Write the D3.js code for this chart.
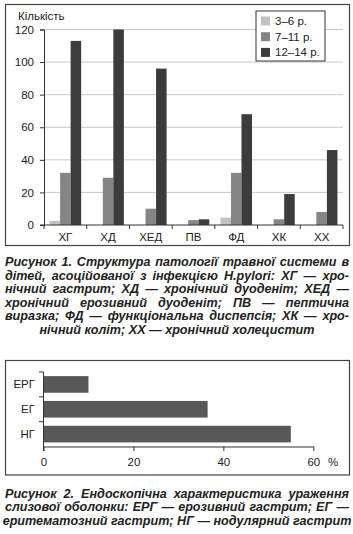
<!DOCTYPE html>
<html>
<head>
<meta charset="utf-8">
<script src="https://cdn.jsdelivr.net/npm/d3@7"></script>
<style>
  body { margin: 0; background: #fff; }
  svg text { font-family: "Liberation Sans", Arial, sans-serif; fill: #222; }
  .cap { font-weight: bold; font-style: italic; font-size: 12.6px; }
</style>
</head>
<body>
<svg id="fig" width="353" height="534"></svg>
<script>
// figure 1 data
var categories = ["ХГ", "ХД", "ХЕД", "ПВ", "ФД", "ХК", "ХХ"];
var ageGroups = ["3–6 р.", "7–11 р.", "12–14 р."];
var age3to6 = [2.5, 0, 0, 0, 4.5, 0, 0];
var age7to11 = [32, 29, 10, 3, 32, 3.5, 8];
var age12to14 = [113, 120, 96, 3.5, 68, 19, 46];
var yTicks1 = [0, 20, 40, 60, 80, 100, 120];

// figure 2 data
var lesions = ["ЕРГ", "ЕГ", "НГ"];
var lesionPct = [10, 36.5, 55];
var xTicks2 = [0, 20, 40, 60];

var caption1 = [
  "Рисунок 1. Структура патології травної системи в",
  "дітей, асоційованої з інфекцією H.pylori: ХГ — хро-",
  "нічний гастрит; ХД — хронічний дуоденіт; ХЕД —",
  "хронічний ерозивний дуоденіт; ПВ — пептична",
  "виразка; ФД — функціональна диспепсія; ХК — хро-",
  "нічний коліт; ХХ — хронічний холецистит"
];
var caption2 = [
  "Рисунок 2.  Ендоскопічна характеристика ураження",
  "слизової оболонки: ЕРГ — ерозивний гастрит; ЕГ —",
  "еритематозний гастрит; НГ — нодулярний гастрит"
];

var colors = ["#c2c2c2", "#858585", "#3c3c3c"];
var svg = d3.select("#fig");

// ---------- figure 1 ----------
svg.append("rect").attr("x", 5.5).attr("y", 4.5).attr("width", 344).attr("height", 241)
  .attr("fill", "none").attr("stroke", "#444").attr("stroke-width", 1.2);

var x0 = d3.scaleBand().domain(categories).range([44, 343]).paddingInner(0.26).paddingOuter(0.13);
var x1 = d3.scaleBand().domain(d3.range(3)).range([0, x0.bandwidth()]);
var y = d3.scaleLinear().domain([0, 120]).range([225, 29.5]);

var g1 = svg.append("g");
g1.selectAll(".grid").data(yTicks1.slice(1)).join("line")
  .attr("x1", 44).attr("x2", 343)
  .attr("y1", function (d) { return y(d); }).attr("y2", function (d) { return y(d); })
  .attr("stroke", "#c8c8c8");

var series = [age3to6, age7to11, age12to14];
categories.forEach(function (c, i) {
  series.forEach(function (s, k) {
    if (s[i] <= 0) return;
    g1.append("rect")
      .attr("x", x0(c) + x1(k)).attr("width", x1.bandwidth())
      .attr("y", y(s[i])).attr("height", y(0) - y(s[i]))
      .attr("fill", colors[k]);
  });
});

// y axis
var yAxis = g1.append("g").attr("transform", "translate(44,0)")
  .call(d3.axisLeft(y).tickValues(yTicks1).tickSize(4).tickPadding(6));
yAxis.select(".domain").attr("stroke", "#333");
yAxis.selectAll(".tick line").attr("stroke", "#333");
yAxis.selectAll("text").style("font-size", "11.5px").attr("fill", "#222");

// x axis with ticks between categories
g1.append("line").attr("x1", 40).attr("x2", 343).attr("y1", y(0)).attr("y2", y(0)).attr("stroke", "#333");
var bounds1 = d3.range(categories.length + 1).map(function (i) { return x0.range()[0] + i * x0.step(); });
g1.selectAll(".xt").data(bounds1).join("line")
  .attr("x1", function (d) { return d; }).attr("x2", function (d) { return d; })
  .attr("y1", y(0)).attr("y2", y(0) + 4).attr("stroke", "#333");
g1.selectAll(".xl").data(categories).join("text")
  .attr("x", function (d) { return x0(d) + x0.bandwidth() / 2; })
  .attr("y", 240.5).attr("text-anchor", "middle").style("font-size", "11.5px")
  .text(function (d) { return d; });

g1.append("text").attr("x", 18).attr("y", 20).style("font-size", "11.5px").text("Кількість");

// legend
var lg = g1.append("g");
lg.append("rect").attr("x", 256).attr("y", 11).attr("width", 69).attr("height", 50)
  .attr("fill", "#fff").attr("stroke", "#333");
ageGroups.forEach(function (a, k) {
  var cy = 21 + k * 15.7;
  lg.append("rect").attr("x", 261).attr("y", cy - 4.5).attr("width", 9).attr("height", 9).attr("fill", colors[k]);
  lg.append("text").attr("x", 275).attr("y", cy + 4).style("font-size", "11.5px").text(a);
});

// ---------- figure 2 ----------
svg.append("rect").attr("x", 5.5).attr("y", 360.5).attr("width", 344).attr("height", 114.5)
  .attr("fill", "none").attr("stroke", "#444").attr("stroke-width", 1.2);

var yb = d3.scaleBand().domain(lesions).range([372, 446.5]).paddingInner(0.33).paddingOuter(0.165);
var xb = d3.scaleLinear().domain([0, 60]).range([43.5, 313.3]);
var g2 = svg.append("g");

g2.selectAll(".bar").data(lesions).join("rect")
  .attr("x", xb(0)).attr("y", function (d) { return yb(d); })
  .attr("width", function (d, i) { return xb(lesionPct[i]) - xb(0); })
  .attr("height", yb.bandwidth()).attr("fill", "#585858");

var bounds2 = d3.range(lesions.length + 1).map(function (i) { return yb.range()[0] + i * yb.step(); });
g2.append("line").attr("x1", xb(0)).attr("x2", xb(0)).attr("y1", bounds2[0]).attr("y2", bounds2[3] + 4.5).attr("stroke", "#333");
g2.selectAll(".yt").data(bounds2.slice(0, 3)).join("line")
  .attr("x1", xb(0) - 4.5).attr("x2", xb(0))
  .attr("y1", function (d) { return d; }).attr("y2", function (d) { return d; })
  .attr("stroke", "#333");
g2.selectAll(".yl").data(lesions).join("text")
  .attr("x", 35).attr("y", function (d) { return yb(d) + yb.bandwidth() / 2 + 4; })
  .attr("text-anchor", "end").style("font-size", "11.5px").text(function (d) { return d; });

var xAxis = g2.append("g").attr("transform", "translate(0," + bounds2[3] + ")")
  .call(d3.axisBottom(xb).tickValues(xTicks2).tickSize(4.5).tickPadding(7).tickSizeOuter(0));
xAxis.select(".domain").attr("stroke", "#333");
xAxis.selectAll(".tick line").attr("stroke", "#333");
xAxis.selectAll("text").style("font-size", "11.5px").attr("fill", "#222");
g2.append("text").attr("x", 333).attr("y", 466).attr("text-anchor", "middle").style("font-size", "11.5px").text("%");

// ---------- captions ----------
function justifyLine(txt, y0, left, right, justify) {
  var words = txt.split(/\s+/);
  var t = svg.append("text").attr("class", "cap").attr("y", y0);
  var spans = words.map(function (w) { return t.append("tspan").text(w); });
  var widths = spans.map(function (s) { return s.node().getComputedTextLength(); });
  var total = d3.sum(widths);
  var space = 3.5;
  var target = right - left;
  if (justify && words.length > 1) space = (target - total) / (words.length - 1);
  var lineW = total + space * (words.length - 1);
  var xx = justify ? left : (left + right) / 2 - lineW / 2;
  if (space < 1.5) {
    // too wide: squeeze glyphs a bit
    var scale = target / (total + 2.5 * (words.length - 1));
    widths = widths.map(function (w) { return w * scale; });
    spans.forEach(function (s, i) { s.attr("textLength", widths[i]).attr("lengthAdjust", "spacingAndGlyphs"); });
    space = 2.5 * scale;
  }
  spans.forEach(function (s, i) {
    s.attr("x", xx);
    xx += widths[i] + space;
  });
}
caption1.forEach(function (l, i) {
  justifyLine(l, 266 + i * 13.5, 5, 349, i < caption1.length - 1);
});
caption2.forEach(function (l, i) {
  justifyLine(l, 498 + i * 13.3, 5, 349, i < caption2.length - 1);
});
</script>
</body>
</html>
